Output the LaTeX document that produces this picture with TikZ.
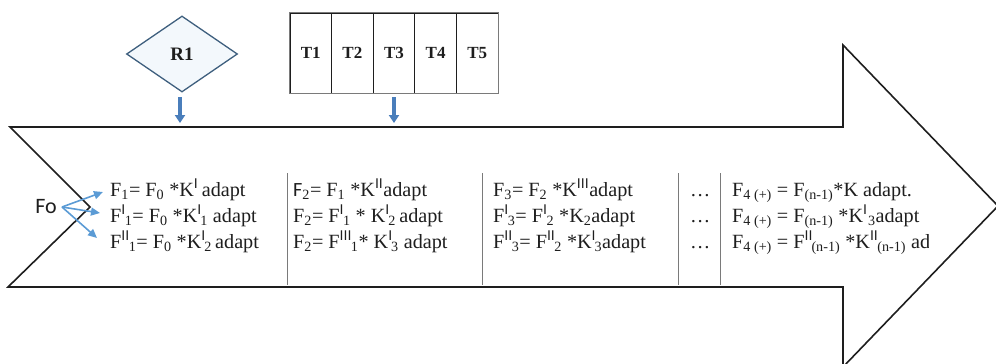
\documentclass[tikz,border=0pt]{standalone}
\usepackage{fontspec}
\setmainfont{Liberation Serif}
\setsansfont{Carlito}
\newfontfamily\eqfont{Liberation Serif}
\newfontfamily\barfont{Liberation Sans}
\usetikzlibrary{shapes.geometric,arrows.meta}
\definecolor{blk}{HTML}{1E1E1E}
\definecolor{txt}{HTML}{1E1E1E}
\definecolor{divgray}{HTML}{7A7A7A}
\definecolor{bluearr}{HTML}{4A7EBB}
\definecolor{bluelite}{HTML}{5B9BD5}
\definecolor{dmdfill}{HTML}{F3F8FC}
\definecolor{dmdline}{HTML}{3E5F7E}
\newcommand{\sI}{\textsuperscript{\barfont I}}
\newcommand{\sII}{\textsuperscript{\barfont II}}
\newcommand{\sIII}{\textsuperscript{\barfont III}}
\newcommand{\sub}[1]{\textsubscript{#1}}
\tikzset{
  eqline/.style={anchor=base west, inner sep=0pt, text=txt, font=\eqfont\fontsize{20.2}{24}\selectfont},
  cellbox/.style={draw=blk, line width=0.9pt, minimum width=41.6pt, minimum height=80pt, inner sep=0pt, font=\eqfont\fontsize{17}{20}\selectfont\bfseries, text=txt},
  divider/.style={draw=divgray, line width=0.8pt},
  downarr/.style={draw=bluearr, line width=4pt, -{Triangle[width=10pt,length=8pt]}},
  fanarr/.style={draw=bluelite, line width=1.6pt, -{Triangle[width=8pt,length=9pt]}}
}
\begin{document}
\begin{tikzpicture}[x=1pt,y=-1pt]
\useasboundingbox (0,0) rectangle (996,364);
% big arrow outline
\draw[blk, line width=1.6pt, line join=miter]
  (10,127) -- (843,127) -- (843,45) -- (998,206) -- (843,367) -- (843,287)
  -- (8,287) -- (90,207) -- cycle;
% diamond
\node[diamond, draw=dmdline, fill=dmdfill, line width=1.3pt, aspect=1.46,
      minimum width=111pt, minimum height=76pt, inner sep=0pt,
      font=\eqfont\fontsize{19}{22}\selectfont\bfseries, text=txt] (r1) at (182,54) {R1};
% table
\foreach \i/\x in {1/310.8,2/352.4,3/394,4/435.6,5/477.2}{
  \node[cellbox] (t\i) at (\x,53) {T\i};
}
\draw[draw=divgray, line width=0.9pt] (t1.north west) rectangle (t5.south east);
% down arrows
\coordinate (d1s) at (180,97);
\coordinate (d1e) at (180,123);
\coordinate (d2s) at (t3.south |- 0,97);
\coordinate (d2e) at (t3.south |- 0,123);
\draw[downarr] (d1s) -- (d1e);
\draw[downarr] (d2s) -- (d2e);
% F0
\node[font=\sffamily\fontsize{22}{24}\selectfont, text=txt, inner sep=0pt] (f0) at (46,207) {Fo};
\coordinate (f0o) at (62,207);
\coordinate (a1) at (103,192);
\coordinate (a2) at (100,213);
\coordinate (a3) at (97,238);
\draw[fanarr] (f0o) -- (a1);
\draw[fanarr] (f0o) -- (a2);
\draw[fanarr] (f0o) -- (a3);
% dividers
\coordinate (v1t) at (287,173); \coordinate (v1b) at (287,285);
\coordinate (v2t) at (482,173); \coordinate (v2b) at (482,285);
\coordinate (v3t) at (678,173); \coordinate (v3b) at (678,285);
\coordinate (v4t) at (720,173); \coordinate (v4b) at (720,285);
\draw[divider] (v1t) -- (v1b);
\draw[divider] (v2t) -- (v2b);
\draw[divider] (v3t) -- (v3b);
\draw[divider] (v4t) -- (v4b);
% column 1
\node[eqline] (c1a) at (110,196) {F\sub{1}= F\sub{0} *K\sI\,adapt};
\node[eqline] (c1b) at (110,222) {F\sI\kern-1pt\sub{1}= F\sub{0} *K\sI\kern-1.5pt\sub{1} adapt};
\node[eqline] (c1c) at (110,248) {F\sII\kern-1pt\sub{1}= F\sub{0} *K\sI\kern-1.5pt\sub{2}\,adapt};
% column 2
\node[eqline] (c2a) at (293,196) {{\sffamily F}\sub{2}= F\sub{1} *K\sII adapt};
\node[eqline] (c2b) at (293,222) {F\sub{2}= F\sI\kern-1pt\sub{1} * K\sI\kern-1.5pt\sub{2}\,adapt};
\node[eqline] (c2c) at (293,248) {F\sub{2}= F\sIII\kern-1pt\sub{1}* K\sI\kern-1.5pt\sub{3} adapt};
% column 3
\node[eqline] (c3a) at (493,196) {F\sub{3}= F\sub{2} *K\sIII adapt};
\node[eqline] (c3b) at (493,222) {F\sI\kern-1pt\sub{3}= F\sI\kern-1pt\sub{2} *K\sub{2}adapt};
\node[eqline] (c3c) at (493,248) {F\sII\kern-1pt\sub{3}= F\sII\kern-1pt\sub{2} *K\sI\kern-1.5pt\sub{3}adapt};
% dots
\node[eqline] (c4a) at (690,196) {\dots};
\node[eqline] (c4b) at (690,222) {\dots};
\node[eqline] (c4c) at (690,248) {\dots};
% column 5
\begin{scope}
\clip (721,170) rectangle (928,290);
\node[eqline] (c5a) at (732,196) {F\sub{4 (+)} = F\sub{(n-1)}*K adapt.};
\node[eqline] (c5b) at (732,222) {F\sub{4 (+)} = F\sub{(n-1)} *K\sI\kern0.5pt\sub{3}adapt};
\node[eqline] (c5c) at (732,248) {F\sub{4 (+)} = F\sII\kern-1.5pt\sub{(n-1)} *K\sII\kern-1pt\sub{(n-1)} adapt};
\end{scope}
\end{tikzpicture}
\end{document}
